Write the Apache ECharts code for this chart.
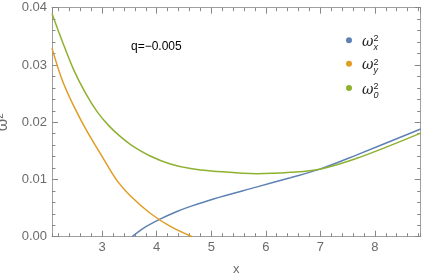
<!DOCTYPE html>
<html>
<head>
<meta charset="utf-8">
<script src="https://cdn.jsdelivr.net/npm/echarts@6/dist/echarts.min.js"></script>
<style>
  html, body { margin: 0; padding: 0; background: #fff; }
  #chart { width: 422px; height: 277px; }
</style>
</head>
<body>
<div id="chart"></div>
<script>
// ---- data ----
const xRange = [2.08, 8.84];
const yRange = [0, 0.04];

const xOmega0 = [2.08, 2.27, 2.48, 2.70, 2.91, 3.12, 3.32, 3.52, 3.88, 4.25, 4.62, 5.04, 5.84, 6.45, 6.99, 7.67, 8.84];
const omega0  = [0.0390, 0.0341, 0.0291, 0.0250, 0.0218, 0.0194, 0.0176, 0.0161, 0.0141, 0.0127, 0.0119, 0.01145, 0.0110, 0.01125, 0.0118, 0.0137, 0.0181];

const xOmegaY = [2.08, 2.27, 2.48, 2.70, 3.00, 3.28, 3.52, 3.88, 4.25, 4.65];
const omegaY  = [0.0329, 0.0273, 0.0228, 0.0188, 0.0140, 0.0097, 0.0071, 0.0041, 0.0018, 0.0];

const xOmegaX = [3.55, 3.76, 4.07, 4.37, 4.62, 5.04, 5.84, 6.45, 6.99, 7.67, 8.84];
const omegaX  = [0.0, 0.0015, 0.0031, 0.0044, 0.0053, 0.0066, 0.0087, 0.0103, 0.0118, 0.0143, 0.0188];

const seriesNames = ['omega_x^2', 'omega_y^2', 'omega_0^2'];
const legendSubs  = ['x', 'y', '0'];
const seriesColors = ['#5E81B5', '#E19C24', '#8FB131'];
const annotation = 'q=\u22120.005';
const xName = 'x';

const zip = (xs, ys) => xs.map((x, i) => [x, ys[i]]);
const frameColor = '#a0a0a0';
const tickColor = '#888888';
const labelColor = '#6b6b6b';
const font = 'Liberation Sans';

const chart = echarts.init(document.getElementById('chart'), null, { renderer: 'canvas' });

function legendRich() {
  return {
    sp: { fontSize: 1, width: 0, height: 20, lineHeight: 20 },
    w: { fontSize: 14, fontStyle: 'italic', fontFamily: 'DejaVu Serif', color: '#222', verticalAlign: 'bottom', height: 16, lineHeight: 16 },
    sup: { fontSize: 9, fontFamily: font, color: '#222', verticalAlign: 'top', height: 17, lineHeight: 17, width: 0 },
    sub: { fontSize: 9, fontStyle: 'italic', fontFamily: font, color: '#222', verticalAlign: 'bottom', height: 6, lineHeight: 6 }
  };
}
const legendTops = [30.3, 53.7, 78];
const legends = seriesNames.map((n, i) => ({
  data: [n], left: 346, top: legendTops[i], padding: 0,
  icon: 'circle', itemWidth: 16, itemHeight: 6, selectedMode: false,
  formatter: () => '{sp| }{w|ω}{sup|2}{sub|' + legendSubs[i] + '}',
  textStyle: { rich: legendRich() }
}));

const tickStyle = (len) => ({ show: true, inside: true, length: len, lineStyle: { color: tickColor, width: 1 } });

const baseX = {
  type: 'value', min: xRange[0], max: xRange[1], gridIndex: 0,
  splitLine: { show: false }, axisLabel: { show: false },
  axisLine: { show: false, onZero: false }, axisTick: { show: false }
};

const option = {
  animation: false,
  backgroundColor: '#fff',
  grid: { left: 52, right: 1.3, top: 7.7, bottom: 40.3, containLabel: false, outerBoundsMode: 'none' },
  legend: legends,
  graphic: [{
    type: 'text', left: 131, top: 41,
    style: { text: annotation, fontSize: 12, fontFamily: font, fill: '#000' }
  }],
  xAxis: [
    Object.assign({}, baseX, {
      position: 'bottom',
      name: xName, nameLocation: 'middle', nameGap: 26,
      nameTextStyle: { color: labelColor, fontSize: 13, fontFamily: font },
      axisLine: { show: true, onZero: false, lineStyle: { color: frameColor, width: 1 } },
      axisTick: tickStyle(6),
      axisLabel: { show: true, color: labelColor, fontSize: 13, fontFamily: font, margin: 4, showMinLabel: false, showMaxLabel: false }
    }),
    Object.assign({}, baseX, { position: 'bottom', splitNumber: 34, axisTick: tickStyle(3.5) }),
    Object.assign({}, baseX, {
      position: 'top',
      axisLine: { show: true, onZero: false, lineStyle: { color: frameColor, width: 1 } },
      axisTick: tickStyle(6)
    }),
    Object.assign({}, baseX, { position: 'top', splitNumber: 34, axisTick: tickStyle(3.5) })
  ],
  yAxis: [
    {
      type: 'value', min: yRange[0], max: yRange[1], interval: 0.01, position: 'left',
      name: '{w|ω}{s|2}', nameLocation: 'middle', nameGap: 37, nameRotate: 90,
      nameTextStyle: {
        rich: {
          w: { fontSize: 16, fontFamily: font, color: labelColor, verticalAlign: 'bottom', height: 16, lineHeight: 16 },
          s: { fontSize: 10, fontFamily: font, color: labelColor, verticalAlign: 'top', height: 10, lineHeight: 10 }
        }
      },
      splitLine: { show: false },
      axisLine: { show: true, onZero: false, lineStyle: { color: frameColor, width: 1 } },
      axisTick: tickStyle(6),
      minorTick: { show: true, splitNumber: 5, length: 3.5, lineStyle: { color: tickColor, width: 1 } },
      axisLabel: { color: labelColor, fontSize: 13, fontFamily: font, margin: 5, formatter: v => v.toFixed(2) }
    },
    {
      type: 'value', min: yRange[0], max: yRange[1], interval: 0.01, position: 'right',
      splitLine: { show: false },
      axisLine: { show: true, onZero: false, lineStyle: { color: frameColor, width: 1 } },
      axisTick: tickStyle(6),
      minorTick: { show: true, splitNumber: 5, length: 3.5, lineStyle: { color: tickColor, width: 1 } },
      axisLabel: { show: false }
    }
  ],
  series: [
    { name: seriesNames[0], type: 'line', data: zip(xOmegaX, omegaX) },
    { name: seriesNames[1], type: 'line', data: zip(xOmegaY, omegaY) },
    { name: seriesNames[2], type: 'line', data: zip(xOmega0, omega0) }
  ].map((s, i) => Object.assign(s, {
    xAxisIndex: 0, yAxisIndex: 0, smooth: 0.35, showSymbol: false, symbol: 'circle', clip: true,
    color: seriesColors[i], lineStyle: { color: seriesColors[i], width: 1.5 }
  }))
};

chart.setOption(option);
</script>
</body>
</html>
